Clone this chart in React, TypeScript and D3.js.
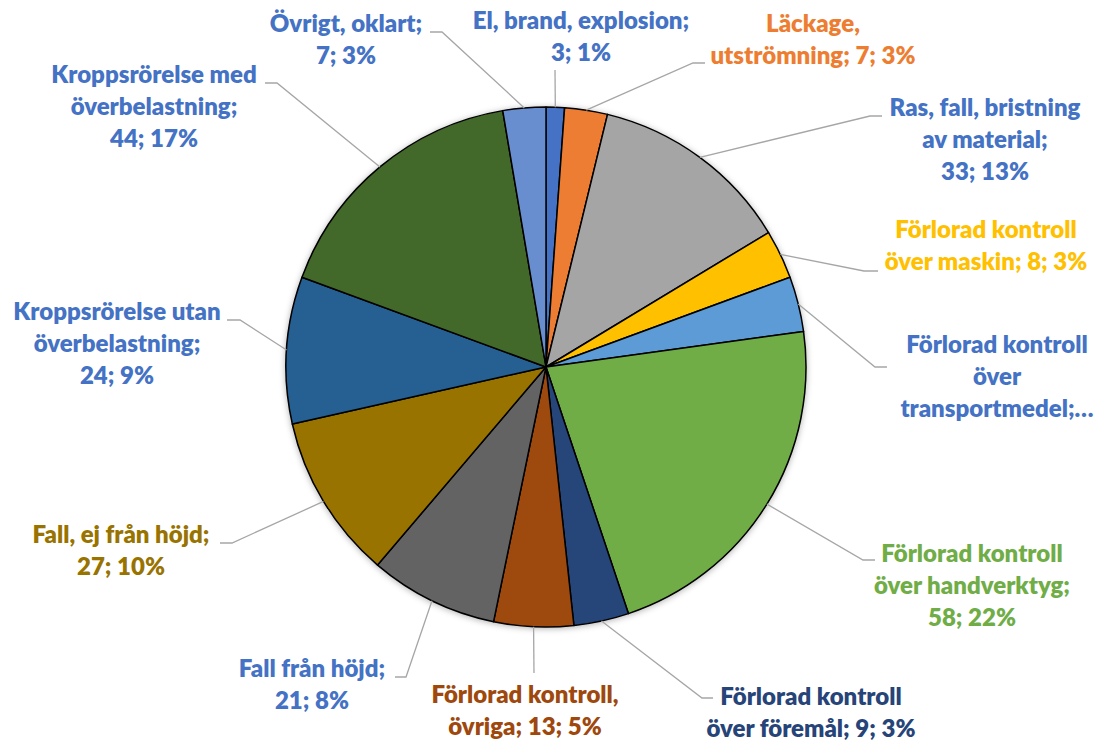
import React, { useEffect, useRef } from "react";
import * as d3 from "d3";

// slices, clockwise from 12 o'clock
const categories = [
  "El, brand, explosion",
  "Läckage, utströmning",
  "Ras, fall, bristning av material",
  "Förlorad kontroll över maskin",
  "Förlorad kontroll över transportmedel",
  "Förlorad kontroll över handverktyg",
  "Förlorad kontroll över föremål",
  "Förlorad kontroll, övriga",
  "Fall från höjd",
  "Fall, ej från höjd",
  "Kroppsrörelse utan överbelastning",
  "Kroppsrörelse med överbelastning",
  "Övrigt, oklart",
];
const values = [3, 7, 33, 8, 9, 58, 9, 13, 21, 27, 24, 44, 7];

// label text as wrapped in the original
const labelLines = [
  ["El, brand, explosion;", "3; 1%"],
  ["Läckage,", "utströmning; 7; 3%"],
  ["Ras, fall, bristning", "av material;", "33; 13%"],
  ["Förlorad kontroll", "över maskin; 8; 3%"],
  ["Förlorad kontroll", "över", "transportmedel;…"],
  ["Förlorad kontroll", "över handverktyg;", "58; 22%"],
  ["Förlorad kontroll", "över föremål; 9; 3%"],
  ["Förlorad kontroll,", "övriga; 13; 5%"],
  ["Fall från höjd;", "21; 8%"],
  ["Fall, ej från höjd;", "27; 10%"],
  ["Kroppsrörelse utan", "överbelastning;", "24; 9%"],
  ["Kroppsrörelse med", "överbelastning;", "44; 17%"],
  ["Övrigt, oklart;", "7; 3%"],
];

const sliceColors = [
  "#4472C4", "#ED7D31", "#A5A5A5", "#FFC000", "#5B9BD5", "#70AD47",
  "#264478", "#9E480E", "#636363", "#997300", "#255E91", "#43682B", "#698ED0",
];
const labelColors = [
  "#4472C4", "#ED7D31", "#4472C4", "#FFC000", "#4472C4", "#70AD47",
  "#264478", "#9E480E", "#4472C4", "#997300", "#4472C4", "#4472C4", "#4472C4",
];

// label placement (text centre x, first baseline y, leader end, leader elbow)
const labelLayout = [
  { x: 581, y: 29, end: [555, 70], elbow: [555, 70] },
  { x: 813, y: 32, end: [705, 63], elbow: [693, 63] },
  { x: 985, y: 116, end: [882, 116], elbow: [870, 116] },
  { x: 986, y: 238, end: [878, 271], elbow: [864, 271] },
  { x: 997, y: 353, end: [887, 367], elbow: [875, 367] },
  { x: 972, y: 562, end: [875, 560], elbow: [863, 560] },
  { x: 811, y: 705, end: [713, 698], elbow: [702, 698] },
  { x: 525, y: 703, end: [534, 673], elbow: [534, 673] },
  { x: 312, y: 677, end: [395, 677], elbow: [406, 677] },
  { x: 121, y: 543, end: [220, 543], elbow: [232, 543] },
  { x: 117, y: 320, end: [227, 320], elbow: [240, 320] },
  { x: 154, y: 83, end: [265, 83], elbow: [277, 83] },
  { x: 346, y: 32, end: [430, 32], elbow: [442, 32] },
];

const width = 1103;
const height = 744;
const cx = 546;
const cy = 367;
const radius = 260;
const lineHeight = 32;

const App = () => {
  const ref = useRef<SVGSVGElement>(null);

  useEffect(() => {
    const svg = d3.select(ref.current);
    svg.selectAll("*").remove();

    const defs = svg.append("defs");
    defs
      .append("filter")
      .attr("id", "shadow")
      .attr("x", "-10%")
      .attr("y", "-10%")
      .attr("width", "120%")
      .attr("height", "120%")
      .append("feDropShadow")
      .attr("dx", 0)
      .attr("dy", 1)
      .attr("stdDeviation", 3)
      .attr("flood-color", "#000")
      .attr("flood-opacity", 0.3);

    const pie = d3.pie<number>().sort(null).value((d) => d);
    const arcs = pie(values);
    const arc = d3.arc<d3.PieArcDatum<number>>().innerRadius(0).outerRadius(radius);

    const g = svg.append("g").attr("transform", `translate(${cx},${cy})`);
    g.append("g")
      .attr("filter", "url(#shadow)")
      .selectAll("path")
      .data(arcs)
      .enter()
      .append("path")
      .attr("d", arc)
      .attr("fill", (_, i) => sliceColors[i])
      .attr("stroke", "#000")
      .attr("stroke-width", 1.5)
      .attr("stroke-linejoin", "round");

    // leader lines
    svg
      .append("g")
      .selectAll("path")
      .data(arcs)
      .enter()
      .append("path")
      .attr("d", (d, i) => {
        const mid = (d.startAngle + d.endAngle) / 2;
        const px = cx + radius * Math.sin(mid);
        const py = cy - radius * Math.cos(mid);
        const { end, elbow } = labelLayout[i];
        return d3.line()([[px, py], elbow as [number, number], end as [number, number]]);
      })
      .attr("fill", "none")
      .attr("stroke", "#A6A6A6")
      .attr("stroke-width", 1.3);

    // labels
    const labels = svg
      .append("g")
      .attr("font-family", "Lato, 'Open Sans', sans-serif")
      .attr("font-weight", 800)
      .attr("font-size", 24)
      .attr("text-anchor", "middle")
      .selectAll("text")
      .data(categories)
      .enter()
      .append("text")
      .attr("fill", (_, i) => labelColors[i]);

    labels
      .selectAll("tspan")
      .data((_, i) => labelLines[i].map((t) => ({ t, i })))
      .enter()
      .append("tspan")
      .attr("x", (d) => labelLayout[d.i].x)
      .attr("y", (d, j) => labelLayout[d.i].y + j * lineHeight)
      .text((d) => d.t);
  }, []);

  return (
    <svg
      ref={ref}
      width={width}
      height={height}
      style={{ position: "absolute", left: 0, top: 0, background: "#fff" }}
    />
  );
};

export default App;
